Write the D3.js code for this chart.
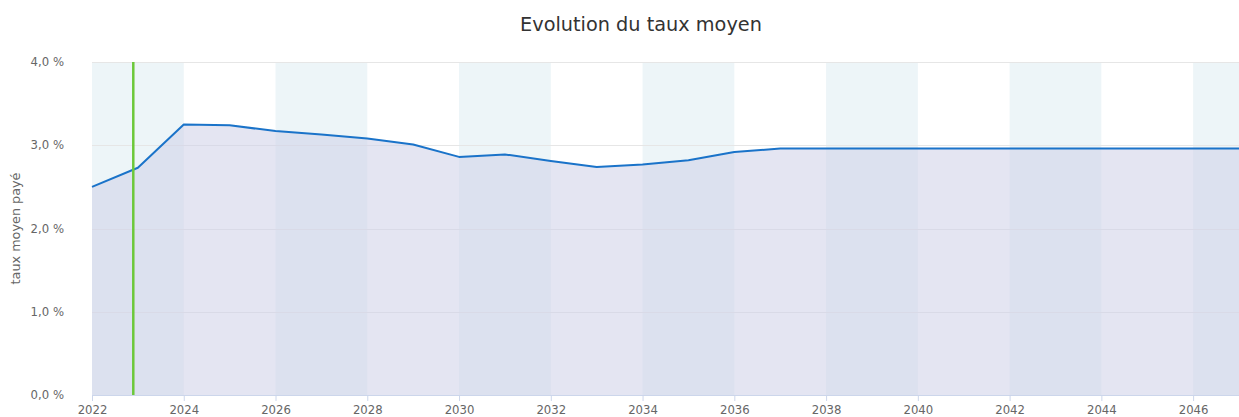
<!DOCTYPE html>
<html><head><meta charset="utf-8">
<script src="https://cdn.jsdelivr.net/npm/d3@7"></script>
<style>body{margin:0;background:#fff}svg{display:block;font-family:"DejaVu Sans",sans-serif}</style>
</head><body><svg id="c" width="1239" height="417"></svg>
<script>
const years = [2022,2023,2024,2025,2026,2027,2028,2029,2030,2031,2032,2033,2034,2035,2036,2037,2038,2039,2040,2041,2042,2043,2044,2045,2046,2047];
const rates = [2.50,2.73,3.25,3.24,3.17,3.13,3.08,3.01,2.86,2.89,2.81,2.74,2.77,2.82,2.92,2.96,2.96,2.96,2.96,2.96,2.96,2.96,2.96,2.96,2.96,2.96];
const yTicks = [0,1,2,3,4];
const xTicks = [2022,2024,2026,2028,2030,2032,2034,2036,2038,2040,2042,2044,2046];
const bandStarts = [2022,2026,2030,2034,2038,2042,2046];
const todayMarker = 2022.9;
const title = "Evolution du taux moyen";
const yTitle = "taux moyen payé";

const svg = d3.select("#c");
const W = 1239, H = 417;
const m = {l:92, r:0, t:62, b:22};
const x = d3.scaleLinear().domain([2022,2047]).range([m.l, W - m.r]);
const y = d3.scaleLinear().domain([0,4]).range([H - m.b, m.t]);

// bands
svg.append("g").selectAll("rect").data(bandStarts).join("rect")
  .attr("x", d => x(d)).attr("y", y(4))
  .attr("width", d => Math.min(x(d+2), W) - x(d)).attr("height", y(0) - y(4))
  .attr("fill", "#edf5f8");

// grid
svg.append("g").selectAll("line").data(yTicks.filter(d=>d>0)).join("line")
  .attr("x1", m.l).attr("x2", W).attr("y1", d => Math.round(y(d))+0.5).attr("y2", d => Math.round(y(d))+0.5)
  .attr("stroke", "#e6e6e6").attr("stroke-width", 1);

// area
const area = d3.area().x((d,i)=>x(years[i])).y0(y(0)).y1(d=>y(d));
svg.append("path").datum(rates).attr("d", area).attr("fill", "rgb(205,208,232)").attr("fill-opacity", 0.55);

// line
const line = d3.line().x((d,i)=>x(years[i])).y(d=>y(d));
svg.append("path").datum(rates).attr("d", line).attr("fill", "none")
  .attr("stroke", "#1a73c9").attr("stroke-width", 2).attr("stroke-linejoin", "round");

// today marker
svg.append("line").attr("x1", x(todayMarker)).attr("x2", x(todayMarker))
  .attr("y1", y(4)).attr("y2", y(0)).attr("stroke", "#6cc83a").attr("stroke-width", 2.5);

// x axis
const xa = svg.append("g").attr("transform", `translate(0,${y(0)})`)
  .call(d3.axisBottom(x).tickValues(xTicks).tickFormat(d3.format("d")).tickSize(6).tickSizeOuter(0));
xa.select(".domain").attr("stroke", "#ccd6eb");
xa.selectAll(".tick line").attr("stroke", "#ccd6eb");
xa.selectAll("text").attr("fill", "#666").attr("font-size", 11.7).attr("dy", "0.85em").attr("font-family", "DejaVu Sans");

// y axis labels
svg.append("g").selectAll("text").data(yTicks).join("text")
  .attr("x", 64).attr("y", d => y(d)).attr("dy", "0.35em").attr("text-anchor", "end")
  .attr("fill", "#666").attr("font-size", 11.7)
  .text(d => d3.format(".1f")(d).replace(".", ",") + " %");

// titles
svg.append("text").attr("x", 641).attr("y", 31).attr("text-anchor", "middle")
  .attr("fill", "#333").attr("font-size", 19.3).text(title);
svg.append("text").attr("transform", `translate(20,${(y(0)+y(4))/2}) rotate(-90)`)
  .attr("text-anchor", "middle").attr("fill", "#666").attr("font-size", 12.8).text(yTitle);
</script></body></html>
